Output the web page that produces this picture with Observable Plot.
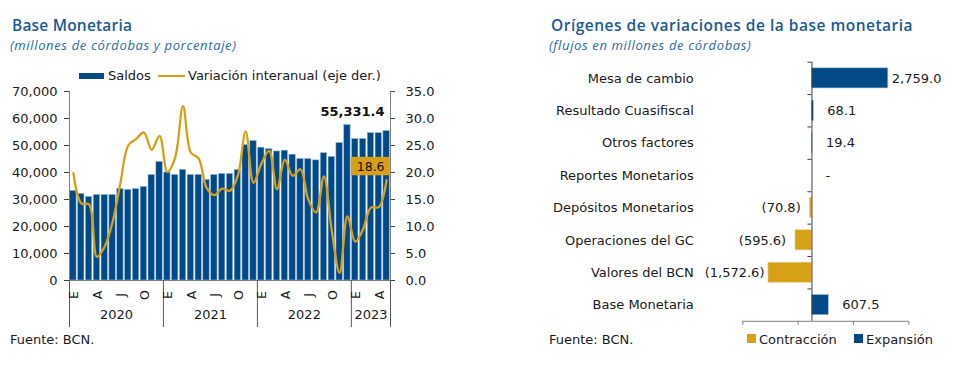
<!DOCTYPE html>
<html><head><meta charset="utf-8">
<script src="https://cdn.jsdelivr.net/npm/d3@7"></script>
<script src="https://cdn.jsdelivr.net/npm/@observablehq/plot@0.6"></script>
<style>
body{margin:0;background:#fff;}
#wrap{position:relative;width:969px;height:370px;overflow:hidden;font-family:"DejaVu Sans",Verdana,sans-serif;color:#1a1a1a;}
.abs{position:absolute;white-space:nowrap;line-height:13px;font-size:13px;}
.title{font-family:"Open Sans",sans-serif;font-weight:600;font-size:15.5px;line-height:16px;color:#1c5a96;letter-spacing:0.5px;}
.sub{font-family:"Open Sans",sans-serif;font-style:italic;font-size:13px;line-height:14px;color:#2b69a8;letter-spacing:0.65px;}
svg{position:absolute;top:0;}
</style></head><body><div id="wrap">
<div class="abs title" style="left:12px;top:17px;letter-spacing:0.2px;">Base Monetaria</div>
<div class="abs sub" style="left:10px;top:38px;">(millones de córdobas y porcentaje)</div>
<div class="abs title" style="left:551px;top:17px;">Orígenes de variaciones de la base monetaria</div>
<div class="abs sub" style="left:549px;top:38px;">(flujos en millones de córdobas)</div>
<div class="abs" style="left:79px;top:73px;width:25px;height:6px;background:#024a87;"></div>
<div class="abs" style="left:108px;top:69px;">Saldos</div>
<div class="abs" style="left:158px;top:75px;width:27px;height:2px;background:#d6a117;"></div>
<div class="abs" style="left:188px;top:69px;">Variación interanual (eje der.)</div>
<div class="abs" style="left:10px;top:333px;">Fuente: BCN.</div>
<div class="abs" style="left:549px;top:333px;">Fuente: BCN.</div>
<div class="abs" style="left:747px;top:334px;width:9px;height:9px;background:#d6a117;"></div>
<div class="abs" style="left:759px;top:333px;">Contracción</div>
<div class="abs" style="left:854px;top:334px;width:9px;height:9px;background:#024a87;"></div>
<div class="abs" style="left:866px;top:333px;">Expansión</div>
</div>
<script>
// ---- Left chart data (Jan 2020 - May 2023) ----
const saldos = [33200, 32100, 31000, 31700, 31700, 31700, 33900, 33600, 33900, 34700, 39100, 43900,
  40000, 39100, 41000, 39100, 39100, 37300, 39100, 39500, 39500, 41000, 50200, 51700,
  49200, 48700, 47800, 48100, 46600, 45000, 45000, 44500, 47200, 45800, 50900, 57600,
  52400, 52400, 54600, 54600, 55331.4];
const variacion = [19.9, 14.3, 14.1, 4.4, 6.3, 10.8, 18.0, 25.0, 26.2, 27.4, 24.2, 26.8,
  20.1, 22.8, 32.3, 23.7, 22.6, 17.2, 15.8, 17.0, 16.6, 19.4, 27.6, 18.1,
  21.6, 24.0, 16.9, 22.4, 19.4, 20.6, 15.0, 12.6, 19.3, 9.2, 1.4, 11.9,
  7.2, 9.5, 13.5, 13.6, 18.6];
const monthTickIdx = [0, 3, 6, 9, 12, 15, 18, 21, 24, 27, 30, 33, 36, 39];
const monthTickLabels = ["E", "A", "J", "O", "E", "A", "J", "O", "E", "A", "J", "O", "E", "A"];
const years = ["2020", "2021", "2022", "2023"];
const yearStart = [0, 12, 24, 36];
const yearEnd = [11, 23, 35, 40];
const leftTicks = [0, 10000, 20000, 30000, 40000, 50000, 60000, 70000];

// ---- Right chart data ----
const categories = ["Mesa de cambio", "Resultado Cuasifiscal", "Otros factores", "Reportes Monetarios",
  "Depósitos Monetarios", "Operaciones del GC", "Valores del BCN", "Base Monetaria"];
const flujos = [2759.0, 68.1, 19.4, 0, -70.8, -595.6, -1572.6, 607.5];
const rightTicks = [-2500, -500, 1500, 3500];

const BLUE = "#024a87", GOLD = "#d6a117", AXIS = "#7f7f7f", DARK = "#404040";
const SCALE = 70000 / 35;
const style = {background: "transparent", fontFamily: "DejaVu Sans, Verdana, sans-serif", fontSize: "13px", color: "#1a1a1a", overflow: "visible"};

const L = saldos.map((v, i) => ({i, saldo: v, pct: variacion[i]}));
const last = [L[L.length - 1]];
const n = saldos.length;
const dividers = yearStart.map(s => s - 0.5).concat([n - 0.5]);

const left = Plot.plot({
  width: 450, height: 350,
  marginTop: 91, marginBottom: 70, marginLeft: 69, marginRight: 60,
  style,
  x: {type: "linear", domain: [-0.5, n - 0.5]},
  y: {domain: [0, 70000]},
  marks: [
    Plot.rect(L, {x1: d => d.i - 0.41, x2: d => d.i + 0.41, y1: 0, y2: "saldo", fill: BLUE, stroke: "#9dbbdc", strokeWidth: 0.6}),
    Plot.line(L, {x: "i", y: d => d.pct * SCALE, stroke: GOLD, strokeWidth: 2.3, curve: "catmull-rom"}),
    Plot.ruleX([-0.5, n - 0.5], {stroke: AXIS}),
    Plot.ruleY([0], {stroke: AXIS}),
    Plot.axisY({anchor: "left", ticks: leftTicks, tickFormat: d3.format(","), tickSize: 5, tickPadding: 7, stroke: DARK, label: null, fontSize: 13}),
    Plot.axisY({anchor: "right", ticks: leftTicks, tickFormat: d => (d / SCALE).toFixed(1), tickSize: 4, tickPadding: 11, stroke: DARK, label: null, fontSize: 13}),
    Plot.axisX({ticks: dividers, tickSize: 47, tickFormat: () => "", stroke: "#595959", label: null}),
    Plot.text(monthTickIdx, {x: d => d, text: (d, k) => monthTickLabels[k], frameAnchor: "bottom", rotate: -90, dx: 5, dy: 14.5, fontSize: 12.5}),
    Plot.text(years, {x: (d, k) => (yearStart[k] + yearEnd[k]) / 2, text: d => d, frameAnchor: "bottom", dy: 38, fontSize: 13}),
    Plot.text(last, {x: "i", y: "saldo", text: d => d3.format(",.1f")(d.saldo), textAnchor: "end", dx: -2, dy: -19, fontWeight: "bold", fontSize: 13, fill: "#111"}),
    Plot.text(last, {x: "i", y: d => d.pct * SCALE, text: d => d.pct.toFixed(1), textAnchor: "end", dx: -2, dy: -13.5, fontSize: 12.5, fill: "#111"})
  ]
});

const F = categories.map((name, i) => ({i, name, value: flujos[i]}));
const fmt = v => v === 0 ? "-" : v < 0 ? "(" + d3.format(",.1f")(-v) + ")" : d3.format(",.1f")(v);
const right = Plot.plot({
  width: 429, height: 370,
  marginLeft: 202.3, marginRight: 60.7, marginTop: 61.7, marginBottom: 49.2,
  style,
  x: {domain: [-2500, 3500]},
  y: {domain: [-0.5, categories.length - 0.5], reverse: true, axis: null},
  marks: [
    Plot.rect(F.filter(d => d.value < 0), {x1: 0, x2: "value", y1: d => d.i - 0.31, y2: d => d.i + 0.31, fill: GOLD, stroke: "#f0d58e", strokeWidth: 0.6}),
    Plot.rect(F.filter(d => d.value > 0), {x1: 0, x2: "value", y1: d => d.i - 0.31, y2: d => d.i + 0.31, fill: BLUE, stroke: "#9dbbdc", strokeWidth: 0.6}),
    Plot.ruleX([0], {stroke: DARK}),
    Plot.ruleY(d3.range(categories.length).map(i => i - 0.5), {y: d => d, x1: 0, x2: 0, insetLeft: -4, stroke: DARK}),
    Plot.ruleY([categories.length - 0.5], {stroke: AXIS}),
    Plot.axisX({ticks: rightTicks, tickSize: 4, tickFormat: () => "", stroke: AXIS, label: null}),
    Plot.text(F, {y: "i", text: "name", frameAnchor: "left", textAnchor: "end", dx: -49, fontSize: 13}),
    Plot.text(F.filter(d => d.value >= 0 && d.value < 1500), {x: "value", y: "i", text: d => fmt(d.value), textAnchor: "start", dx: 13.5, fontSize: 13}),
    Plot.text(F.filter(d => d.value >= 1500), {x: "value", y: "i", text: d => fmt(d.value), textAnchor: "start", dx: 3.5, fontSize: 13}),
    Plot.text(F.filter(d => d.value < 0 && d.value > -1500), {x: "value", y: "i", text: d => fmt(d.value), textAnchor: "end", dx: -9.3, fontSize: 13}),
    Plot.text(F.filter(d => d.value <= -1500), {x: "value", y: "i", text: d => fmt(d.value), textAnchor: "end", dx: -4, fontSize: 13})
  ]
});

const wrap = document.getElementById("wrap");
left.style.left = "0px";
right.style.left = "540px";
wrap.appendChild(left);
wrap.appendChild(right);

// golden box behind the latest percentage label
const pctText = last[0].pct.toFixed(1);
left.querySelectorAll("text").forEach(t => {
  if (t.textContent === pctText && !t.closest("[aria-label*='axis']")) {
    const b = t.getBBox();
    const r = document.createElementNS("http://www.w3.org/2000/svg", "rect");
    r.setAttribute("x", b.x - 6);
    r.setAttribute("y", b.y + b.height / 2 - 9.2);
    r.setAttribute("width", b.width + 11);
    r.setAttribute("height", 18.4);
    r.setAttribute("fill", GOLD);
    if (t.getAttribute("transform")) r.setAttribute("transform", t.getAttribute("transform"));
    t.parentNode.insertBefore(r, t);
  }
});
</script>
</body></html>
